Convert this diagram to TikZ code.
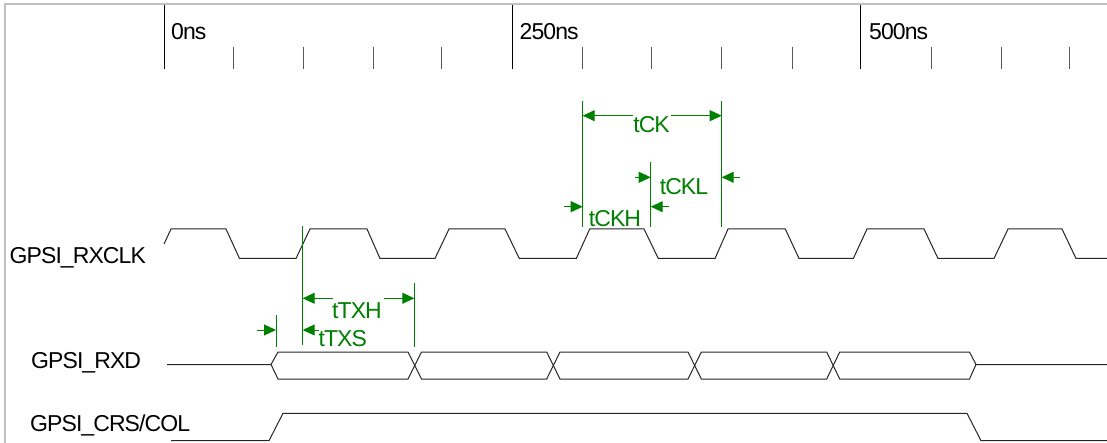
\documentclass[tikz,border=0pt]{standalone}
\usepackage{fontspec}
\setmainfont[LetterSpace=-4]{Liberation Sans}
\usetikzlibrary{arrows.meta}
\definecolor{dimgreen}{RGB}{0,128,0}
\tikzset{
  wave/.style={draw=black!85, line width=1pt, line join=miter},
  major/.style={draw=black, line width=0.8pt},
  minor/.style={draw=black!65, line width=0.9pt},
  frameline/.style={draw=black!25, line width=1.8pt},
  guide/.style={draw=dimgreen, line width=1pt},
  dimarrow/.style={draw=dimgreen, line width=1pt, -{Triangle[length=12pt,width=11pt]}},
  lbl/.style={font=\fontsize{23}{25}\selectfont, text=black, inner sep=0pt, anchor=base west},
  glbl/.style={font=\fontsize{23}{25}\selectfont, text=dimgreen, inner sep=0pt, anchor=base},
}
\begin{document}
\begin{tikzpicture}[x=1pt,y=-1pt]
\useasboundingbox (0,0) rectangle (1107,443);
\fill[white] (0,0) rectangle (1107,443);
% frame
\coordinate (fa) at (5,443); \coordinate (fb) at (5,4); \coordinate (fc) at (1107,4);
\draw[frameline] (fa) -- (fb) -- (fc);
% time axis
\foreach \x/\n in {164.3/0,512.5/1,860.5/2}{
  \coordinate (mt\n) at (\x,5); \coordinate (mb\n) at (\x,69);
  \draw[major] (mt\n) -- (mb\n);
}
\foreach \x [count=\i] in {233,303,373.6,441.8,582.7,651,721,792,931,1001,1069}{
  \coordinate (nt\i) at (\x,46.7); \coordinate (nb\i) at (\x,69);
  \draw[minor] (nt\i) -- (nb\i);
}
\node[lbl] (t0) at (171,40) {0ns};
\node[lbl] (t250) at (519.5,40) {250ns};
\node[lbl] (t500) at (869,40) {500ns};
% signal labels
\node[lbl] (rxclk) at (9.5,263.3) {GPSI\_RXCLK};
\node[lbl] (rxd) at (31,368.5) {GPSI\_RXD};
\node[lbl] (crs) at (30,431.5) {GPSI\_CRS/COL};
% clock
\draw[wave] (164,244) -- (171,229) -- (226,229) -- (239.5,258.5) -- (296,258.5)
  -- (310,229) -- (367,229) -- (380,258.5) -- (435,258.5)
  -- (449,229) -- (505,229) -- (519.3,258.5) -- (576.3,258.5)
  -- (589.7,229) -- (644,229) -- (658.3,258.5) -- (715,258.5)
  -- (728,229) -- (785.3,229) -- (799,258.5) -- (853.3,258.5)
  -- (867,229) -- (924,229) -- (938,258.5) -- (994,258.5)
  -- (1008,229) -- (1062,229) -- (1076,258.5) -- (1107,258.5);
% data
\draw[wave] (167,364.5) -- (271,364.5) -- (278,352) -- (408,352) -- (421.5,379) -- (546.7,379) -- (560,352) -- (688,352) -- (701.3,379) -- (826.7,379) -- (839.7,352) -- (969.5,352) -- (976,364.5) -- (1107,364.5);
\draw[wave] (271,364.5) -- (278,379) -- (408,379) -- (421.5,352) -- (546.7,352) -- (560,379) -- (688,379) -- (701.3,352) -- (826.7,352) -- (839.7,379) -- (969.5,379) -- (976,364.5);
% crs
\draw[wave] (171,440.7) -- (269,440.7) -- (283,413.3) -- (967,413.3) -- (981,440.7) -- (1107,440.7);
% green guides
\coordinate (g1t) at (582.7,101); \coordinate (g1b) at (582.7,227);
\coordinate (g2t) at (721.7,101); \coordinate (g2b) at (721.7,227);
\coordinate (g3t) at (650.7,162); \coordinate (g3b) at (650.7,227);
\coordinate (g4t) at (302.7,226); \coordinate (g4b) at (302.7,345);
\coordinate (g5t) at (414.3,283); \coordinate (g5b) at (414.3,347);
\coordinate (g6t) at (276,315);   \coordinate (g6b) at (276,347);
\foreach \n in {1,...,6}{\draw[guide] (g\n t) -- (g\n b);}
% tCK
\node[glbl] (tck) at (651.5,132.7) {tCK};
\coordinate (ck1) at (633,115.7); \coordinate (ck2) at (671,115.7);
\coordinate (ckl) at (582.7,115.7); \coordinate (ckr) at (721.7,115.7);
\draw[dimarrow] (ck1) -- (ckl);
\draw[dimarrow] (ck2) -- (ckr);
% tCKL
\node[glbl] (tckl) at (684,195) {tCKL};
\coordinate (cl1) at (635,177.3); \coordinate (cl1t) at (650.7,177.3);
\coordinate (cl2) at (740,177.3); \coordinate (cl2t) at (721.7,177.3);
\draw[dimarrow] (cl1) -- (cl1t);
\draw[dimarrow] (cl2) -- (cl2t);
% tCKH
\node[glbl] (tckh) at (615,226.7) {tCKH};
\coordinate (ch1) at (564,206.7); \coordinate (ch1t) at (582.7,206.7);
\coordinate (ch2) at (669,206.7); \coordinate (ch2t) at (650.7,206.7);
\draw[dimarrow] (ch1) -- (ch1t);
\draw[dimarrow] (ch2) -- (ch2t);
% tTXH
\node[glbl] (ttxh) at (357,318) {tTXH};
\coordinate (tx1) at (332.7,298.3); \coordinate (tx1t) at (302.7,298.3);
\coordinate (tx2) at (384,298.3);   \coordinate (tx2t) at (414.3,298.3);
\draw[dimarrow] (tx1) -- (tx1t);
\draw[dimarrow] (tx2) -- (tx2t);
% tTXS
\node[glbl] (ttxs) at (342.7,346.7) {tTXS};
\coordinate (ts1) at (319,330); \coordinate (ts1t) at (302.7,330);
\coordinate (ts2) at (257,330); \coordinate (ts2t) at (276,330);
\draw[dimarrow] (ts1) -- (ts1t);
\draw[dimarrow] (ts2) -- (ts2t);
\end{tikzpicture}
\end{document}
